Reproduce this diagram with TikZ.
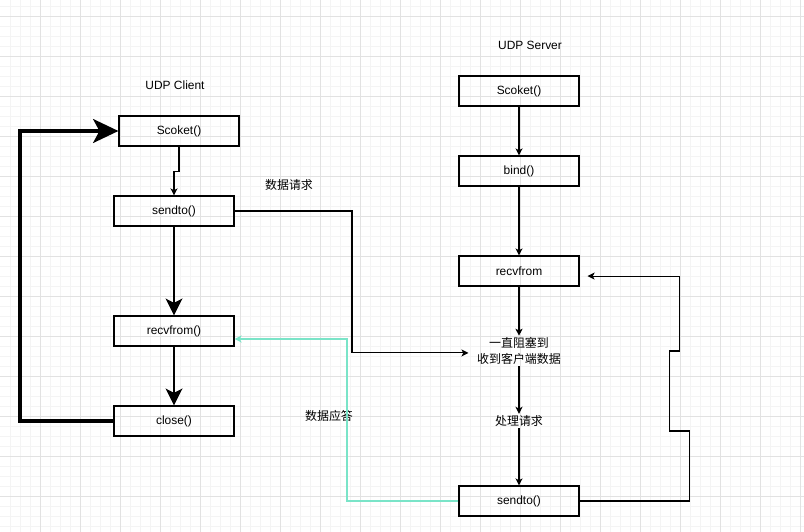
\documentclass[tikz,border=0pt]{standalone}
\usepackage{fontspec}
\setmainfont{Liberation Sans}
\newfontfamily\cjk{Noto Sans CJK SC}
\usepackage{tikz}
\usetikzlibrary{arrows.meta,positioning}
\usepackage{xcolor}
\definecolor{gridmajor}{RGB}{226,226,226}
\definecolor{gridminor}{RGB}{244,244,244}
\definecolor{replyteal}{RGB}{122,228,200}
\tikzstyle{call} = [draw, line width=0.8pt, minimum width=3cm, minimum height=0.75cm, inner sep=0pt, font=\fontsize{8.5}{10}\selectfont]
\tikzstyle{note} = [inner sep=1pt, align=center, font=\fontsize{8.5}{11.4}\selectfont\cjk]
\tikzstyle{title} = [font=\fontsize{8.5}{10}\selectfont]
\tikzstyle{arrow} = [line width=0.75pt, -{Stealth[length=5pt,width=5pt,inset=1.3pt]}]
\tikzstyle{bigarrow} = [line width=0.75pt, -{Stealth[length=12pt,width=12pt,inset=3pt]}]
\tikzstyle{loop} = [line width=2.2pt, -{Stealth[length=18pt,width=17pt,inset=4.5pt]}]
\tikzstyle{reply} = [line width=1.1pt, color=replyteal, -{Stealth[length=5pt,width=5pt,inset=1.3pt]}]

\begin{document}
\begin{tikzpicture}[x=0.025cm, y=-0.025cm]
\useasboundingbox (0,0) rectangle (804,532);
% Grid
\fill[white] (0,0) rectangle (804,532);
\foreach \gx in {10,20,...,800} \draw[gridminor, line width=0.7pt] (\gx,0) -- (\gx,532);
\foreach \gy in {6.5,16.5,...,526.5} \draw[gridminor, line width=0.7pt] (0,\gy) -- (804,\gy);
\foreach \gx in {40,80,...,800} \draw[gridmajor, line width=0.7pt] (\gx,0) -- (\gx,532);
\foreach \gy in {16.5,56.5,...,496.5} \draw[gridmajor, line width=0.7pt] (0,\gy) -- (804,\gy);

% Client
\node[title] (clientT) at (175,85) {UDP Client};
\node[call] (scoketC) at (179,131) {Scoket()};
\node[call] (sendC) at (174,211) {sendto()};
\node[call] (recvC) at (174,331) {recvfrom()};
\node[call] (closeC) at (174,421) {close()};

% Server
\node[title] (serverT) at (530,45) {UDP Server};
\node[call] (scoketS) at (519,91) {Scoket()};
\node[call] (bindS) at (519,171) {bind()};
\node[call] (recvS) at (519,271) {recvfrom};
\node[note] (waitS) at (519,351) {一直阻塞到\\收到客户端数据};
\node[note] (handleS) at (519,421) {处理请求};
\node[call] (sendS) at (519,501) {sendto()};

% Labels
\node[note] (reqL) at (289,185) {数据请求};
\node[note] (ackL) at (329,416) {数据应答};

% Client flow
\coordinate (back) at (20,0);
\draw[arrow] (scoketC.south) -- ++(0,25) -| (sendC.north);
\draw[bigarrow] (sendC) -- (recvC);
\draw[bigarrow] (recvC) -- (closeC);
\draw[loop] (closeC.west) -- (closeC.west -| back) |- (scoketC.west);

% Server flow
\draw[arrow] (scoketS) -- (bindS);
\draw[arrow] (bindS) -- (recvS);
\draw[arrow] (recvS) -- (waitS);
\draw[arrow] (waitS) -- (handleS);
\draw[arrow] (handleS) -- (sendS);
\coordinate (loopEnd) at ([xshift=5.7pt,yshift=-3.6pt]recvS.east);
\draw[arrow] (sendS.east) -- ++(110,0) -- ++(0,-70) -- ++(-20,0) -- ++(0,-80) -- ++(10,0) |- (loopEnd);

% Between client and server
\coordinate (reqX) at (352,0);
\coordinate (ackX) at (347,339);
\coordinate (reqEnd) at ([yshift=-1.4pt]waitS.west);
\draw[arrow, shorten >=5pt] (sendC.east) -- (sendC.east -| reqX) |- (reqEnd);
\draw[reply] (sendS.west) -| (ackX) -- (recvC.east |- ackX);
\end{tikzpicture}
\end{document}
